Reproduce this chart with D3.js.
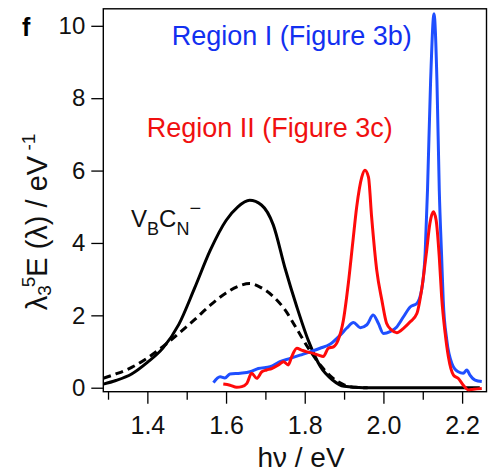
<!DOCTYPE html>
<html>
<head>
<meta charset="utf-8">
<script src="https://cdn.jsdelivr.net/npm/d3@7"></script>
<style>
  body { margin: 0; background: #fff; }
  svg text { font-family: "Liberation Sans", Arial, Helvetica, sans-serif; }
</style>
</head>
<body>
<div id="chart"></div>
<script>
// V_B C_N^- reference curves (solid + dashed)
const blackE      = [1.288, 1.32, 1.36, 1.40, 1.44, 1.48, 1.52, 1.56, 1.60, 1.63, 1.66, 1.69, 1.72, 1.75, 1.78, 1.81, 1.84, 1.87, 1.90, 1.95, 2.00, 2.10, 2.20, 2.245];
const blackSolid  = [0.10, 0.20, 0.38, 0.70, 1.10, 1.75, 2.75, 3.80, 4.62, 5.00, 5.18, 5.05, 4.50, 3.30, 2.23, 1.28, 0.58, 0.22, 0.04, 0.0, 0.0, 0.0, 0.0, 0.0];
const dashedE     = [1.288, 1.32, 1.36, 1.40, 1.44, 1.48, 1.52, 1.56, 1.60, 1.63, 1.66, 1.69, 1.72, 1.75, 1.78, 1.81, 1.84, 1.87, 1.90, 1.93, 1.96];
const blackDashed = [0.26, 0.38, 0.56, 0.82, 1.14, 1.50, 1.88, 2.28, 2.62, 2.80, 2.88, 2.76, 2.52, 2.15, 1.62, 1.08, 0.62, 0.28, 0.08, 0.01, 0.0];

// Region I (Figure 3b)
const blueE = [1.568, 1.585, 1.597, 1.610, 1.636, 1.661, 1.682, 1.712, 1.737, 1.763, 1.788, 1.813, 1.839, 1.864, 1.890, 1.907, 1.924, 1.941, 1.958, 1.974, 1.987, 2.000, 2.017, 2.034, 2.051, 2.068, 2.085, 2.097, 2.106, 2.112, 2.120, 2.1286, 2.136, 2.142, 2.148, 2.152, 2.161, 2.174, 2.190, 2.203, 2.212, 2.220, 2.233, 2.250];
const blueY = [0.14, 0.30, 0.27, 0.38, 0.40, 0.44, 0.53, 0.58, 0.72, 0.81, 0.90, 0.99, 1.09, 1.20, 1.45, 1.65, 1.80, 1.66, 1.74, 2.01, 1.78, 1.50, 1.55, 1.68, 1.96, 2.23, 2.33, 2.70, 3.70, 5.45, 8.50, 10.33, 8.50, 5.45, 3.61, 2.42, 1.32, 0.67, 0.44, 0.40, 0.49, 0.35, 0.21, 0.17];

// Region II (Figure 3c)
const redE = [1.593, 1.610, 1.627, 1.640, 1.653, 1.665, 1.678, 1.691, 1.703, 1.716, 1.733, 1.746, 1.758, 1.767, 1.780, 1.792, 1.805, 1.822, 1.835, 1.847, 1.860, 1.873, 1.885, 1.898, 1.911, 1.922, 1.932, 1.945, 1.953, 1.962, 1.970, 1.983, 1.996, 2.008, 2.021, 2.034, 2.051, 2.068, 2.085, 2.097, 2.110, 2.118, 2.127, 2.134, 2.142, 2.148, 2.157, 2.165, 2.178, 2.190, 2.203, 2.216, 2.229, 2.250];
const redY = [0.10, 0.07, 0.01, 0.03, 0.12, 0.40, 0.26, 0.44, 0.49, 0.53, 0.63, 0.72, 0.63, 0.86, 1.09, 1.04, 0.99, 0.95, 0.90, 0.86, 1.09, 1.13, 1.32, 1.85, 2.90, 4.00, 4.99, 5.82, 6.01, 5.82, 4.72, 3.25, 2.42, 1.78, 1.59, 1.52, 1.64, 1.82, 2.05, 2.70, 3.80, 4.53, 4.86, 4.63, 3.61, 2.51, 1.50, 0.86, 0.35, 0.26, 0.07, -0.06, -0.04, -0.02];

const xMajor = [1.4, 1.6, 1.8, 2.0, 2.2];
const xMinor = [1.3, 1.5, 1.7, 1.9, 2.1];
const yTicks = [0, 2, 4, 6, 8, 10];

const W = 490, H = 473;
const box = { left: 103.3, right: 486.5, top: 8.8, bottom: 391.7 };

const svg = d3.select('#chart').append('svg')
    .attr('width', W)
    .attr('height', H);

const x = d3.scaleLinear().domain([1.288, 2.262]).range([box.left, box.right]);
const y = d3.scaleLinear().domain([-0.11, 10.47]).range([box.bottom, box.top]);

svg.append('clipPath').attr('id', 'clip')
    .append('rect')
    .attr('x', box.left).attr('y', box.top)
    .attr('width', box.right - box.left).attr('height', box.bottom - box.top);

// axes
const xAxis = svg.append('g').attr('transform', `translate(0,${box.bottom})`)
    .call(d3.axisBottom(x).tickValues(xMajor).tickSize(12).tickPadding(13).tickFormat(d3.format('.1f')));
const xAxisMinor = svg.append('g').attr('transform', `translate(0,${box.bottom})`)
    .call(d3.axisBottom(x).tickValues(xMinor).tickSize(8).tickFormat(''));
const yAxis = svg.append('g').attr('transform', `translate(${box.left},0)`)
    .call(d3.axisLeft(y).tickValues(yTicks).tickSize(12).tickPadding(6));

[xAxis, xAxisMinor, yAxis].forEach(g => {
    g.select('.domain').remove();
    g.selectAll('line').attr('stroke', '#000').attr('stroke-width', 1.3);
});
xAxis.selectAll('text').attr('font-size', 25).attr('fill', '#111').attr('font-family', '"Liberation Sans", Arial, sans-serif');
yAxis.selectAll('text').attr('font-size', 24).attr('fill', '#111').attr('font-family', '"Liberation Sans", Arial, sans-serif');

// frame
svg.append('rect')
    .attr('x', box.left).attr('y', box.top)
    .attr('width', box.right - box.left).attr('height', box.bottom - box.top)
    .attr('fill', 'none').attr('stroke', '#000').attr('stroke-width', 1.4);

// curves
const line = d3.line()
    .x(d => x(d[0]))
    .y(d => y(d[1]))
    .curve(d3.curveMonotoneX);

const plot = svg.append('g').attr('clip-path', 'url(#clip)');

plot.append('path')
    .datum(d3.zip(dashedE, blackDashed))
    .attr('d', line)
    .attr('fill', 'none').attr('stroke', '#000').attr('stroke-width', 3)
    .attr('stroke-dasharray', '8,5');

plot.append('path')
    .datum(d3.zip(blackE, blackSolid))
    .attr('d', line)
    .attr('fill', 'none').attr('stroke', '#000').attr('stroke-width', 3);

plot.append('path')
    .datum(d3.zip(blueE, blueY))
    .attr('d', line)
    .attr('fill', 'none').attr('stroke', '#1f4fff').attr('stroke-width', 3)
    .attr('stroke-linejoin', 'round');

plot.append('path')
    .datum(d3.zip(redE, redY))
    .attr('d', line)
    .attr('fill', 'none').attr('stroke', '#ff0a0a').attr('stroke-width', 3)
    .attr('stroke-linejoin', 'round');

// labels
svg.append('text')
    .attr('x', 22).attr('y', 36)
    .attr('font-size', 25).attr('font-weight', 'bold')
    .text('f');

svg.append('text')
    .attr('x', 171.7).attr('y', 45)
    .attr('font-size', 27).attr('fill', '#1230f0')
    .text('Region I (Figure 3b)');

svg.append('text')
    .attr('x', 146.7).attr('y', 137)
    .attr('font-size', 27).attr('fill', '#f01010')
    .text('Region II (Figure 3c)');

const vb = svg.append('text')
    .attr('x', 131).attr('y', 226.7)
    .attr('font-size', 24).attr('fill', '#111');
vb.append('tspan').text('V');
vb.append('tspan').attr('font-size', 18).attr('dy', 8.3).text('B');
vb.append('tspan').attr('dy', -8.3).text('C');
vb.append('tspan').attr('font-size', 18).attr('dy', 8.3).text('N');
vb.append('tspan').attr('font-size', 20).attr('dy', -20).text('−');

// x title
svg.append('text')
    .attr('x', 301).attr('y', 467)
    .attr('text-anchor', 'middle')
    .attr('font-size', 28).attr('fill', '#111')
    .text('hν / eV');

// y title
const yt = svg.append('text')
    .attr('transform', 'translate(47,222) rotate(-90)')
    .attr('text-anchor', 'middle')
    .attr('font-size', 29).attr('fill', '#111');
yt.append('tspan').text('λ');
yt.append('tspan').attr('font-size', 19).attr('dy', 4).text('3');
yt.append('tspan').attr('font-size', 19).attr('dy', -16).attr('dx', -2).text('5');
yt.append('tspan').attr('dy', 12).text('E (λ) / eV');
yt.append('tspan').attr('font-size', 19).attr('dy', -12).text(' -1');
</script>
</body>
</html>
